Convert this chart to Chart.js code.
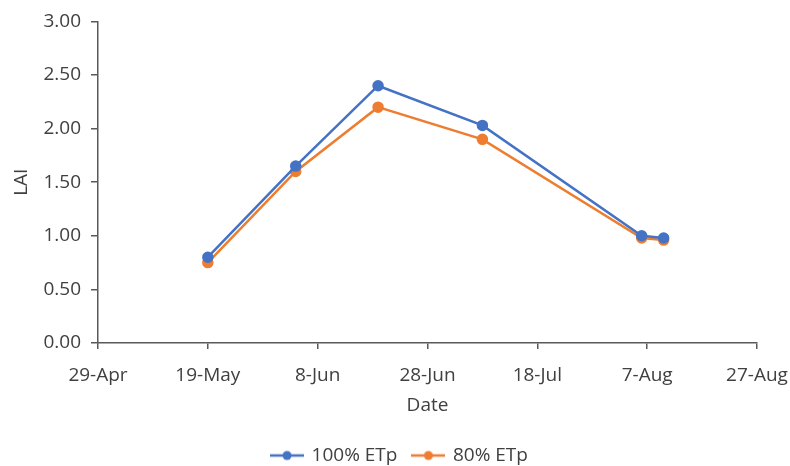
<!DOCTYPE html>
<html>
<head>
<meta charset="utf-8">
<script src="https://cdn.jsdelivr.net/npm/chart.js@4.4.1/dist/chart.umd.min.js"></script>
<style>
  html, body { margin: 0; padding: 0; background: #fff; }
  #wrap { width: 790px; height: 466px; }
</style>
</head>
<body>
<div id="wrap"><canvas id="laiChart" width="790" height="466"></canvas></div>
<script>
// sampling dates and LAI readings
const sampleDates = ['2021-05-19', '2021-06-04', '2021-06-19', '2021-07-08', '2021-08-06', '2021-08-10'];
const lai100 = [0.80, 1.65, 2.40, 2.03, 1.00, 0.98];
const lai80 = [0.75, 1.60, 2.20, 1.90, 0.98, 0.96];
const dateTicks = ['29-Apr', '19-May', '8-Jun', '28-Jun', '18-Jul', '7-Aug', '27-Aug'];
const axisStart = '2021-04-29';

const DAY = 86400000;
function dayNum(s) {
    return (Date.parse(s) - Date.parse(axisStart)) / DAY;
}

function toPoints(values) {
    return values.map((v, i) => ({ x: dayNum(sampleDates[i]), y: v }));
}

// little line-with-dot swatch for the legend
function legendSwatch(color) {
    const c = document.createElement('canvas');
    c.width = 34;
    c.height = 12;
    const g = c.getContext('2d');
    g.strokeStyle = color;
    g.lineWidth = 2.5;
    g.beginPath();
    g.moveTo(0, 6);
    g.lineTo(34, 6);
    g.stroke();
    g.fillStyle = color;
    g.beginPath();
    g.arc(17, 6, 4.5, 0, Math.PI * 2);
    g.fill();
    return c;
}

const font = { family: "'Open Sans', sans-serif", size: 19 };
const axisColor = '#595959';
const textColor = '#404040';

var ctx = document.getElementById('laiChart').getContext('2d');
var laiChart = new Chart(ctx, {
    type: 'line',
    data: {
        datasets: [{
            label: '100% ETp',
            data: toPoints(lai100),
            borderColor: '#4472C4',
            backgroundColor: '#4472C4',
            borderWidth: 2.5,
            pointRadius: 4.5,
            tension: 0
        }, {
            label: '80% ETp',
            data: toPoints(lai80),
            borderColor: '#ED7D31',
            backgroundColor: '#ED7D31',
            borderWidth: 2.5,
            pointRadius: 4.5,
            tension: 0
        }]
    },
    options: {
        responsive: false,
        animation: false,
        layout: {
            padding: { left: 10, right: 0, top: 18, bottom: -9 }
        },
        plugins: {
            tooltip: false,
            legend: {
                position: 'bottom',
                labels: {
                    color: textColor,
                    font: font,
                    usePointStyle: true,
                    pointStyleWidth: 30,
                    padding: 16,
                    generateLabels: function(chart) {
                        const items = Chart.defaults.plugins.legend.labels.generateLabels(chart);
                        items.forEach((item, i) => {
                            item.pointStyle = legendSwatch(chart.data.datasets[i].borderColor);
                        });
                        return items;
                    }
                }
            }
        },
        scales: {
            x: {
                type: 'linear',
                min: 0,
                max: 120,
                afterBuildTicks: function(scale) {
                    scale.ticks = dateTicks.map((t, i) => ({ value: i * 20 }));
                },
                afterFit: function(scale) {
                    scale.height = 87;
                    scale.paddingRight = 33;
                },
                ticks: {
                    color: textColor,
                    font: font,
                    padding: 15,
                    maxRotation: 0,
                    callback: function(value, index) {
                        return dateTicks[index];
                    }
                },
                grid: {
                    display: true,
                    drawOnChartArea: false,
                    drawTicks: true,
                    tickLength: 6,
                    color: axisColor,
                    lineWidth: 1.5
                },
                border: { color: axisColor, width: 1.5 },
                title: {
                    display: true,
                    text: 'Date',
                    color: textColor,
                    font: font,
                    padding: { top: 2, bottom: 13 }
                }
            },
            y: {
                min: 0,
                max: 3,
                afterFit: function(scale) {
                    scale.width = 88;
                },
                ticks: {
                    stepSize: 0.5,
                    color: textColor,
                    font: font,
                    padding: 10,
                    callback: function(value) {
                        return value.toFixed(2);
                    }
                },
                grid: {
                    display: true,
                    drawOnChartArea: false,
                    drawTicks: true,
                    tickLength: 7,
                    color: axisColor,
                    lineWidth: 1.5
                },
                border: { color: axisColor, width: 1.5 },
                title: {
                    display: true,
                    text: 'LAI',
                    color: textColor,
                    font: font,
                    padding: { top: 0, bottom: 0 }
                }
            }
        }
    }
});
</script>
</body>
</html>
